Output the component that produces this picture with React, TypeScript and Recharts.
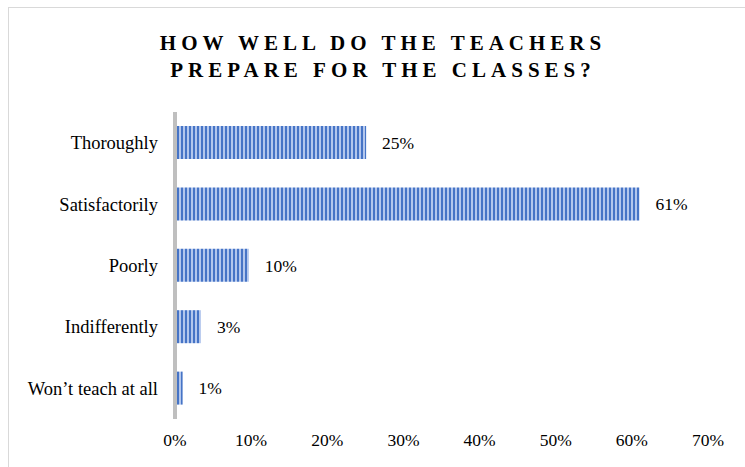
import React from "react";
import { BarChart, Bar, XAxis, YAxis, LabelList } from "recharts";

const categories = ["Thoroughly", "Satisfactorily", "Poorly", "Indifferently", "Won\u2019t teach at all"];
const values = [0.251, 0.61, 0.097, 0.034, 0.01];
const xTicks = [0, 0.1, 0.2, 0.3, 0.4, 0.5, 0.6, 0.7];
const titleLines = ["HOW WELL DO THE TEACHERS", "PREPARE FOR THE CLASSES?"];

const data = categories.map((c, i) => ({ name: c, value: values[i] }));
const pct = (v: number) => `${Math.round(v * 100)}%`;

const FONT = '"Liberation Serif", "Times New Roman", serif';

export default function App() {
  return (
    <div style={{ position: "absolute", left: 0, top: 0, width: 745, height: 467, background: "#fff", overflow: "hidden", fontFamily: FONT }}>
      <div style={{ position: "absolute", left: 8, top: 7, width: 760, height: 480, borderLeft: "1.5px solid #d9d9d9", borderTop: "1.5px solid #d9d9d9", boxSizing: "border-box" }} />
      <div style={{ position: "absolute", left: 0, top: 30, width: 766, textAlign: "center", fontWeight: "bold", fontSize: 21, letterSpacing: 5, lineHeight: "27px", color: "#000" }}>
        {titleLines.map((t) => (
          <div key={t}>{t}</div>
        ))}
      </div>
      <div style={{ position: "absolute", left: 0, top: 0 }}>
        <BarChart
          width={745}
          height={467}
          data={data}
          layout="vertical"
          margin={{ top: 112, right: 37, bottom: 18, left: 0 }}
          barSize={33}
        >
          <defs>
            <pattern id="stripes" patternUnits="userSpaceOnUse" width="4" height="8">
              <rect x="0" y="0" width="4" height="8" fill="#b3c7ed" />
              <rect x="1" y="0" width="2" height="8" fill="#4674c6" />
            </pattern>
          </defs>
          <XAxis
            type="number"
            domain={[0, 0.7]}
            ticks={xTicks}
            tickFormatter={pct}
            axisLine={false}
            tickLine={false}
            tickSize={0}
            tickMargin={15}
            height={30}
            interval={0}
            tick={{ fill: "#000", fontSize: 17.5, fontFamily: FONT }}
          />
          <YAxis
            type="category"
            dataKey="name"
            width={175}
            axisLine={{ stroke: "#bfbfbf", strokeWidth: 4 }}
            tickLine={false}
            tickSize={0}
            tickMargin={17}
            interval={0}
            tick={{ fill: "#000", fontSize: 18.5, fontFamily: FONT }}
          />
          <Bar dataKey="value" fill="url(#stripes)" isAnimationActive={false}>
            <LabelList dataKey="value" position="right" offset={16} formatter={(v: any) => pct(Number(v))} style={{ fill: "#000", fontSize: 17.5, fontFamily: FONT }} />
          </Bar>
        </BarChart>
      </div>
    </div>
  );
}
